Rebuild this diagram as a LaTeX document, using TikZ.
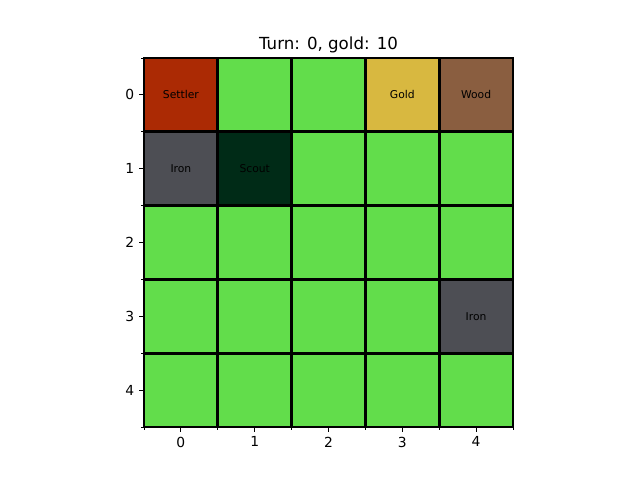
\documentclass[tikz,border=0pt]{standalone}
\usepackage{fontspec}
\setmainfont{DejaVu Sans}
\definecolor{grass}{RGB}{98,221,75}
\definecolor{settler}{RGB}{171,42,4}
\definecolor{goldc}{RGB}{216,184,64}
\definecolor{woodc}{RGB}{138,94,64}
\definecolor{ironc}{RGB}{77,78,84}
\definecolor{scoutc}{RGB}{0,43,23}
\tikzset{
  cell/.style={draw=black, line width=2.78bp, minimum width=73.8bp, minimum height=73.8bp, inner sep=0pt,
    font=\fontsize{10.8}{12}\selectfont, text=black},
  ticklab/.style={inner sep=0pt, font=\fontsize{13.9}{16}\selectfont},
  majtick/.style={line width=1.11bp},
  mintick/.style={line width=0.83bp}
}
\begin{document}
\begin{tikzpicture}[x=1bp,y=-1bp]
\useasboundingbox (0,0) rectangle (640,480);
\foreach \r/\c/\col/\lab in {
  0/0/settler/Settler, 0/1/grass/, 0/2/grass/, 0/3/goldc/Gold, 0/4/woodc/Wood,
  1/0/ironc/Iron, 1/1/scoutc/Scout, 1/2/grass/, 1/3/grass/, 1/4/grass/,
  2/0/grass/, 2/1/grass/, 2/2/grass/, 2/3/grass/, 2/4/grass/,
  3/0/grass/, 3/1/grass/, 3/2/grass/, 3/3/grass/, 3/4/ironc/Iron,
  4/0/grass/, 4/1/grass/, 4/2/grass/, 4/3/grass/, 4/4/grass/}
{
  \node[cell, fill=\col] (c\r\c) at ({144+73.8*(\c+0.5)},{58+73.8*(\r+0.5)}) {\lab};
}
% frame
\draw[line width=1.11bp] (144,58) rectangle (513,427);
% ticks
\foreach \i in {0,...,4}{
  \draw[majtick] ({144+73.8*(\i+0.5)},427) -- ++(0,4.86);
  \draw[majtick] (144,{58+73.8*(\i+0.5)}) -- ++(-4.86,0);
  \node[ticklab, anchor=north] (bx\i) at ({144+73.8*(\i+0.5)},436.7) {\i};
  \node[ticklab, anchor=east] (ly\i) at (134.3,{58+73.8*(\i+0.5)}) {\i};
}
\foreach \i in {0,...,5}{
  \draw[mintick] ({144+73.8*\i},427) -- ++(0,2.78);
  \draw[mintick] (144,{58+73.8*\i}) -- ++(-2.78,0);
}
\node[inner sep=0pt, anchor=base, font=\fontsize{16.7}{20}\selectfont] (title) at (328.5,49.7) {Turn: 0, gold: 10};
\end{tikzpicture}
\end{document}
